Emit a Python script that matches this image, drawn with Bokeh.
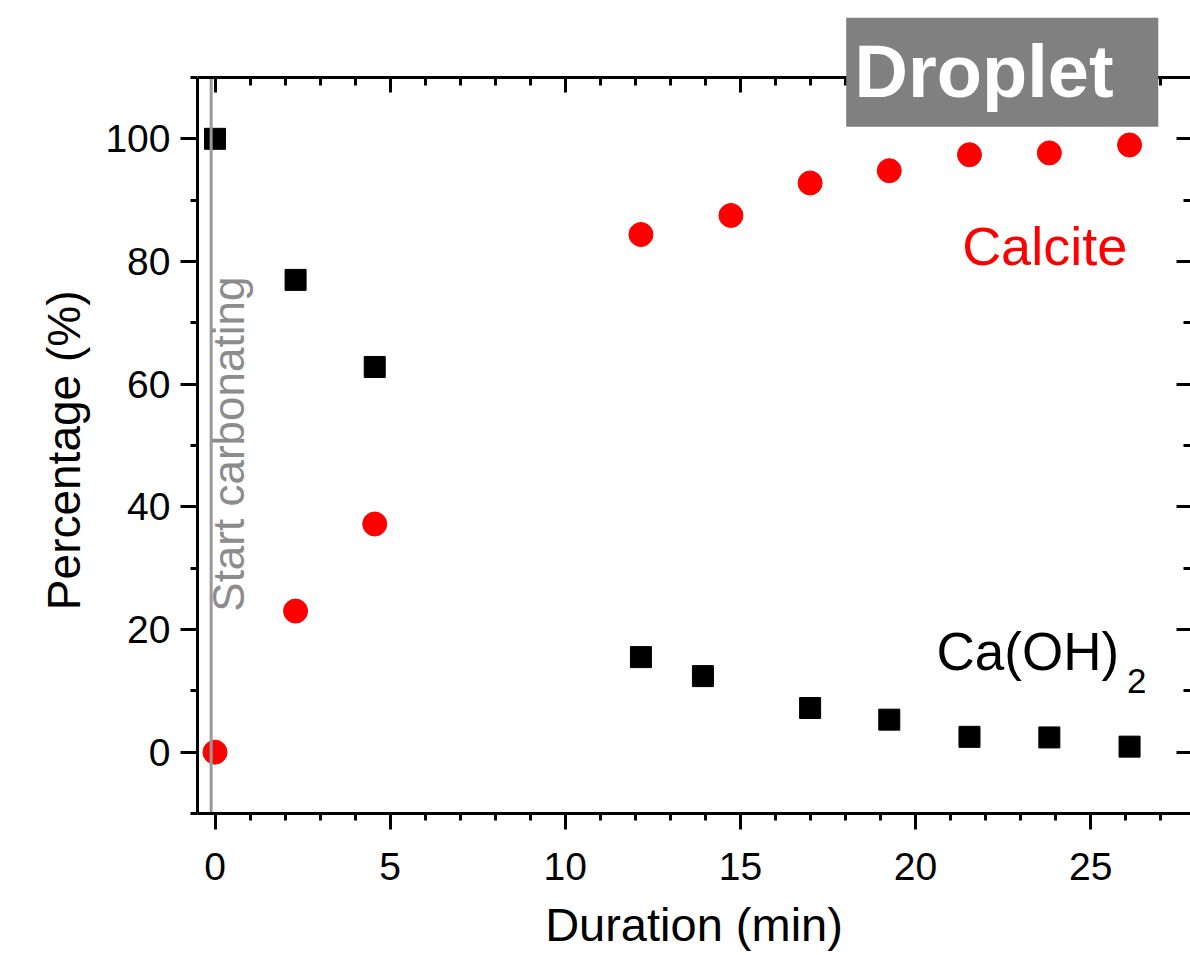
import numpy as np
from bokeh.plotting import figure
from bokeh.models import Range1d, LinearAxis, FixedTicker, Label, BoxAnnotation, CustomJSTickFormatter
from bokeh.embed import file_html
from bokeh.resources import INLINE

# Data
caoh_x = [0, 2.3, 4.56, 12.16, 13.93, 16.99, 19.25, 21.54, 23.82, 26.11]
caoh_y = [100, 77.0, 62.8, 15.5, 12.4, 7.2, 5.3, 2.5, 2.4, 0.9]
calc_x = [0, 2.3, 4.56, 12.16, 14.73, 16.99, 19.25, 21.54, 23.82, 26.11]
calc_y = [0, 23.0, 37.2, 84.4, 87.5, 92.8, 94.8, 97.4, 97.7, 99.0]

start_x = -0.11          # time at which carbonation starts (reference line)
y_lo, y_hi = -10, 110    # axis limits of the percentage scale

x_major = [0, 5, 10, 15, 20, 25]
x_minor = list(range(0, 28))
y_major = [0, 20, 40, 60, 80, 100]
y_minor = list(range(-10, 111, 10))

FONT = "Liberation Sans"
NBSP = "\u00a0"

p = figure(width=1190, height=955, output_backend="svg", toolbar_location=None,
           x_range=Range1d(-0.5, 27.85), y_range=Range1d(y_lo, 120.92),
           x_axis_type=None, y_axis_type=None,
           min_border_left=197, min_border_right=0, min_border_top=10, min_border_bottom=142)
p.outline_line_color = None
p.background_fill_color = "white"
p.border_fill_color = "white"

def style(ax, tin, tout, min_in, min_out):
    ax.axis_line_width = 3
    ax.axis_line_color = "black"
    ax.major_tick_line_width = 3
    ax.minor_tick_line_width = 3
    ax.major_tick_line_color = "black"
    ax.minor_tick_line_color = "black"
    ax.major_tick_in = tin
    ax.major_tick_out = tout
    ax.minor_tick_in = min_in
    ax.minor_tick_out = min_out
    ax.major_label_text_font = FONT
    ax.major_label_text_color = "black"
    ax.axis_label_text_font = FONT
    ax.axis_label_text_color = "black"
    ax.axis_label_text_font_style = "normal"

bottom = LinearAxis(ticker=FixedTicker(ticks=x_major, minor_ticks=x_minor), axis_label="Duration (min)")
style(bottom, 0, 16, 0, 7)
bottom.major_label_text_font_size = "39px"
bottom.axis_label_text_font_size = "47px"
bottom.major_label_standoff = 23
bottom.axis_label_standoff = 15
p.add_layout(bottom, "below")

left = LinearAxis(ticker=FixedTicker(ticks=y_major, minor_ticks=y_minor),
                  axis_label="Percentage (%)" + NBSP * 6, bounds=(y_lo, y_hi))
style(left, 0, 17, 0, 7)
left.major_label_text_font_size = "39px"
left.axis_label_text_font_size = "46px"
left.major_label_standoff = 10
left.axis_label_standoff = 12
p.add_layout(left, "left")

blank = CustomJSTickFormatter(code="return ''")
top = LinearAxis(ticker=FixedTicker(ticks=x_major, minor_ticks=x_minor), formatter=blank,
                 fixed_location=y_hi)
style(top, 15, 0, 8, 0)
top.major_label_standoff = 0
top.major_label_text_font_size = "1px"
p.add_layout(top, "above")

right = LinearAxis(ticker=FixedTicker(ticks=y_major, minor_ticks=y_minor), formatter=blank,
                   bounds=(y_lo, y_hi))
style(right, 14, 0, 7, 0)
right.axis_line_color = None
right.major_label_standoff = 0
right.major_label_text_font_size = "1px"
p.add_layout(right, "right")

p.scatter(caoh_x, caoh_y, marker="square", size=21, fill_color="black", line_color="black")
p.scatter(calc_x, calc_y, marker="circle", size=24, fill_color="#ff0000", line_color="#ff0000")

p.segment(x0=[start_x], y0=[y_lo - 1], x1=[start_x], y1=[y_hi], line_color="#999999", line_width=3)

p.add_layout(Label(x=0.39, y=22.9, text="Start carbonating", angle=np.pi / 2,
                   text_font=FONT, text_font_size="44px", text_color="#8c8c8c",
                   text_align="left", text_baseline="alphabetic"))
p.add_layout(Label(x=21.33, y=82.6, text="Calcite", text_font=FONT, text_font_size="54px",
                   text_color="#ff0000", text_align="left", text_baseline="alphabetic"))
p.add_layout(Label(x=20.6, y=16.35, text="Ca(OH)", text_font=FONT, text_font_size="53px",
                   text_color="black", text_align="left", text_baseline="alphabetic"))
p.add_layout(Label(x=26.04, y=11.63, text="2", text_font=FONT, text_font_size="35px",
                   text_color="black", text_align="left", text_baseline="alphabetic"))
p.add_layout(BoxAnnotation(left=18.02, right=26.93, bottom=101.96, top=119.73,
                           fill_color="#808080", fill_alpha=1.0, line_color=None))
p.add_layout(Label(x=18.26, y=111.0, text="Droplet", text_font=FONT, text_font_size="74px",
                   text_font_style="bold", text_color="white", text_align="left",
                   text_baseline="alphabetic"))

open("out.html", "w").write(file_html(p, INLINE))
